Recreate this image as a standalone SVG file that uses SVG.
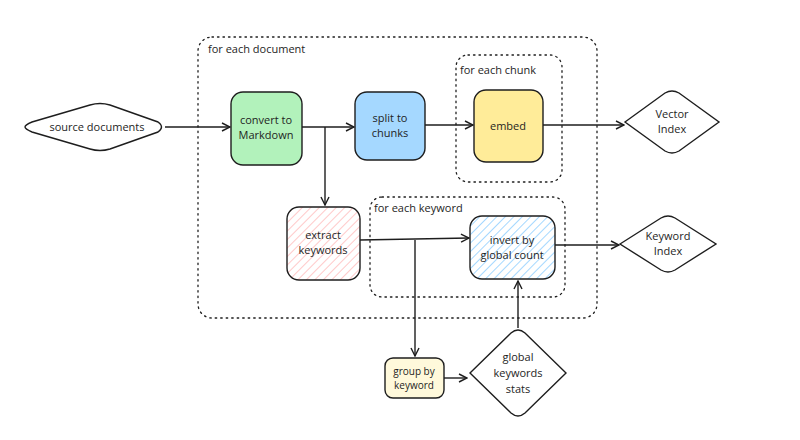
<svg xmlns="http://www.w3.org/2000/svg" width="800" height="440" viewBox="0 0 800 440">
<style>
text{font-family:"Open Sans","DejaVu Sans",sans-serif;font-size:11px;fill:#1e1e1e;text-anchor:middle}
.lbl{text-anchor:start}
.grp{fill:none;stroke:#1e1e1e;stroke-width:1.3;stroke-dasharray:1.5 4;stroke-linecap:round}
.n{stroke:#1e1e1e;stroke-width:1.4}
.c{fill:none;stroke:#1e1e1e;stroke-width:1.4}
</style>
<defs>
<marker id="a" markerWidth="10" markerHeight="10" refX="9" refY="5" orient="auto" markerUnits="userSpaceOnUse"><path d="M1,1 L9,5 L1,9" fill="none" stroke="#1e1e1e" stroke-width="1.4"/></marker>
<pattern id="hp" width="6" height="6" patternUnits="userSpaceOnUse" patternTransform="rotate(45)"><rect width="6" height="6" fill="#fff"/><line x1="0" y1="0" x2="0" y2="6" stroke="#ffc9c9" stroke-width="2"/></pattern>
<pattern id="hb" width="6" height="6" patternUnits="userSpaceOnUse" patternTransform="rotate(45)"><rect width="6" height="6" fill="#fff"/><line x1="0" y1="0" x2="0" y2="6" stroke="#a5d8ff" stroke-width="2"/></pattern>
</defs>
<rect width="800" height="440" fill="#fff"/>
<g id="groups">
<rect class="grp" x="198" y="37" width="399" height="281" rx="14"/>
<text class="lbl" x="208" y="53">for each document</text>
<rect class="grp" x="456" y="55" width="106" height="127" rx="12"/>
<text class="lbl" x="460" y="74">for each chunk</text>
<rect class="grp" x="370" y="197" width="195" height="100" rx="12"/>
<text class="lbl" x="374" y="212">for each keyword</text>
</g>
<g id="connectors">
<line class="c" x1="165" y1="127" x2="230" y2="127" marker-end="url(#a)"/>
<line class="c" x1="302" y1="127" x2="354" y2="127" marker-end="url(#a)"/>
<line class="c" x1="425" y1="125" x2="473" y2="125" marker-end="url(#a)"/>
<line class="c" x1="543" y1="125" x2="624" y2="125" marker-end="url(#a)"/>
<line class="c" x1="325" y1="127" x2="325" y2="205" marker-end="url(#a)"/>
<line class="c" x1="360" y1="240" x2="469" y2="238" marker-end="url(#a)"/>
<line class="c" x1="415" y1="240" x2="415" y2="356" marker-end="url(#a)"/>
<line class="c" x1="444" y1="378" x2="467" y2="378" marker-end="url(#a)"/>
<line class="c" x1="518" y1="328" x2="518" y2="281" marker-end="url(#a)"/>
<line class="c" x1="555" y1="245" x2="619" y2="245" marker-end="url(#a)"/>
</g>
<g id="source"><path class="n" fill="#fff" d="M25,127 Q25,125 32,122 L90,105 Q100,102 110,105 L158,122 Q165,127 158,132 L110,149 Q100,152 90,149 L32,132 Q25,129 25,127Z"/><text x="97" y="131">source documents</text></g>
<g id="convert"><rect class="n" fill="#b2f2bb" x="231" y="92" width="71" height="73" rx="12"/><text x="266" y="124">convert to</text><text x="266" y="139">Markdown</text></g>
<g id="split"><rect class="n" fill="#a5d8ff" x="355" y="92" width="70" height="68" rx="12"/><text x="390" y="122">split to</text><text x="390" y="137">chunks</text></g>
<g id="embed"><rect class="n" fill="#ffec99" x="474" y="90" width="69" height="72" rx="12"/><text x="508" y="130">embed</text></g>
<g id="vector"><path class="n" fill="#fff" d="M625,122 L665,93 Q672,89 679,93 L719,122 L679,151 Q672,155 665,151Z"/><text x="672" y="118">Vector</text><text x="672" y="133">Index</text></g>
<g id="extract"><rect class="n" fill="url(#hp)" x="287" y="207" width="73" height="73" rx="12"/><text x="323" y="239">extract</text><text x="323" y="254">keywords</text></g>
<g id="invert"><rect class="n" fill="url(#hb)" x="470" y="216" width="85" height="63" rx="12"/><text x="512" y="244">invert by</text><text x="512" y="259">global count</text></g>
<g id="kwindex"><path class="n" fill="#fff" d="M620,244 L661,218 Q668,214 675,218 L716,244 L675,270 Q668,274 661,270Z"/><text x="668" y="240">Keyword</text><text x="668" y="255">Index</text></g>
<g id="group"><rect class="n" fill="#fff9db" x="385" y="358" width="59" height="40" rx="8"/><text x="414" y="375" style="font-size:10px">group by</text><text x="414" y="389" style="font-size:10px">keyword</text></g>
<g id="stats"><path class="n" fill="#fff" d="M470,373 L511,333 Q518,327 525,333 L566,373 L525,413 Q518,419 511,413Z"/><text x="518" y="361">global</text><text x="518" y="377">keywords</text><text x="518" y="393">stats</text></g>
</svg>
